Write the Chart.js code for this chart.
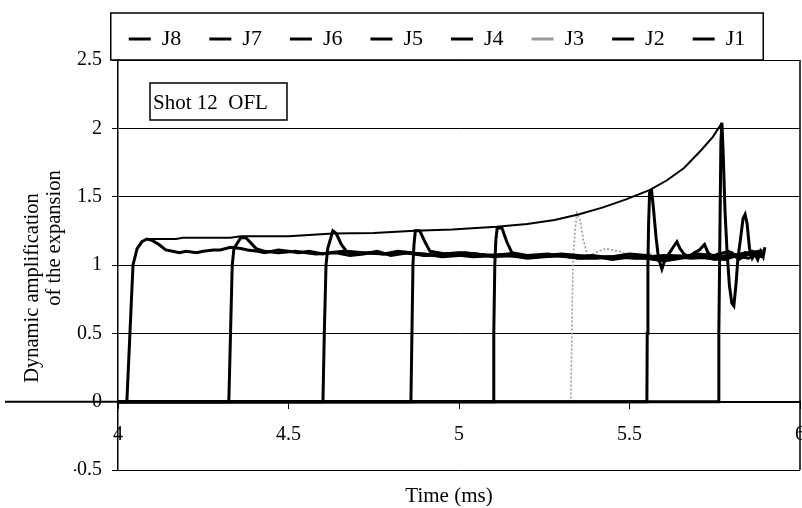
<!DOCTYPE html>
<html>
<head>
<meta charset="utf-8">
<script src="https://cdn.jsdelivr.net/npm/chart.js@4.4.1/dist/chart.umd.min.js"></script>
<style>
  html, body { margin: 0; padding: 0; background: #fff; }
  #wrap { width: 802px; height: 508px; position: relative; }
</style>
</head>
<body>
<div id="wrap"><canvas id="chart"></canvas></div>
<script>
// ─── DATA (time in ms, dynamic amplification) ─────────────
const xTicks = [4, 4.5, 5, 5.5, 6];
const yTicks = [-0.5, 0, 0.5, 1, 1.5, 2, 2.5];

const j8X = [4, 4.026, 4.035, 4.044, 4.056, 4.07, 4.085, 4.1, 4.12, 4.14, 4.16, 4.18, 4.2, 4.23, 4.25, 4.28, 4.3, 4.33, 4.36, 4.38, 4.41, 4.43, 4.47, 4.5, 4.53, 4.56, 4.6, 4.62, 4.66, 4.7, 4.74, 4.78, 4.82, 4.86, 4.9, 4.95, 5.0, 5.05, 5.1, 5.15, 5.2, 5.25, 5.3, 5.35, 5.4, 5.45, 5.5, 5.55, 5.6, 5.65, 5.7, 5.75, 5.79, 5.82, 5.85, 5.88];
const j8Y = [0, 0, 0.5, 1.0, 1.12, 1.17, 1.19, 1.18, 1.15, 1.11, 1.10, 1.09, 1.10, 1.09, 1.10, 1.11, 1.11, 1.13, 1.12, 1.11, 1.10, 1.09, 1.11, 1.10, 1.09, 1.10, 1.08, 1.09, 1.10, 1.08, 1.09, 1.08, 1.10, 1.09, 1.07, 1.08, 1.09, 1.08, 1.07, 1.08, 1.06, 1.07, 1.08, 1.07, 1.05, 1.06, 1.08, 1.07, 1.05, 1.06, 1.08, 1.07, 1.10, 1.06, 1.09, 1.10];

const j7X = [4, 4.325, 4.33, 4.335, 4.34, 4.36, 4.375, 4.39, 4.405, 4.43, 4.47, 4.52, 4.58, 4.64, 4.68, 4.72, 4.76, 4.8, 4.85, 4.9, 4.95, 5.0, 5.05, 5.1, 5.15, 5.2, 5.25, 5.3, 5.35, 5.4, 5.45, 5.5, 5.55, 5.6, 5.65, 5.7, 5.75, 5.8, 5.84, 5.87];
const j7Y = [0, 0, 0.5, 1.0, 1.12, 1.20, 1.20, 1.16, 1.12, 1.10, 1.09, 1.10, 1.08, 1.09, 1.07, 1.08, 1.10, 1.07, 1.09, 1.08, 1.06, 1.07, 1.08, 1.06, 1.07, 1.05, 1.06, 1.07, 1.05, 1.06, 1.04, 1.06, 1.05, 1.03, 1.05, 1.07, 1.04, 1.06, 1.09, 1.08];

const j6X = [4, 4.601, 4.605, 4.61, 4.615, 4.63, 4.64, 4.655, 4.67, 4.72, 4.78, 4.84, 4.9, 4.97, 5.04, 5.12, 5.2, 5.28, 5.36, 5.44, 5.52, 5.6, 5.68, 5.76, 5.83, 5.89];
const j6Y = [0, 0, 0.5, 1.0, 1.12, 1.25, 1.23, 1.15, 1.10, 1.09, 1.08, 1.09, 1.07, 1.08, 1.06, 1.07, 1.06, 1.07, 1.05, 1.06, 1.05, 1.07, 1.05, 1.06, 1.08, 1.07];

const j5X = [4, 4.859, 4.862, 4.865, 4.868, 4.872, 4.885, 4.9, 4.915, 4.96, 5.02, 5.08, 5.15, 5.22, 5.3, 5.38, 5.46, 5.54, 5.62, 5.7, 5.78, 5.84, 5.89];
const j5Y = [0, 0, 0.5, 1.0, 1.15, 1.25, 1.25, 1.17, 1.10, 1.08, 1.09, 1.07, 1.08, 1.06, 1.07, 1.05, 1.06, 1.05, 1.07, 1.06, 1.04, 1.09, 1.06];

const j4X = [4, 5.100, 5.102, 5.105, 5.108, 5.112, 5.126, 5.14, 5.155, 5.2, 5.26, 5.32, 5.39, 5.46, 5.53, 5.6, 5.67, 5.74, 5.8, 5.85, 5.89];
const j4Y = [0, 0, 0.5, 1.0, 1.18, 1.27, 1.27, 1.17, 1.09, 1.07, 1.08, 1.06, 1.07, 1.05, 1.06, 1.04, 1.06, 1.05, 1.07, 1.05, 1.11];

const j3X = [4, 5.328, 5.331, 5.334, 5.34, 5.346, 5.355, 5.365, 5.378, 5.4, 5.43, 5.47, 5.51, 5.56, 5.61, 5.66, 5.71, 5.76, 5.81, 5.86, 5.89];
const j3Y = [0, 0, 0.5, 1.0, 1.25, 1.38, 1.33, 1.18, 1.06, 1.09, 1.12, 1.10, 1.06, 1.08, 1.05, 1.07, 1.05, 1.08, 1.06, 1.09, 1.07];

const j2X = [4, 5.551, 5.552, 5.554, 5.556, 5.559, 5.565, 5.57, 5.578, 5.585, 5.595, 5.603, 5.615, 5.628, 5.639, 5.648, 5.66, 5.675, 5.69, 5.705, 5.72, 5.73, 5.745, 5.76, 5.78, 5.8, 5.82, 5.84, 5.86, 5.88];
const j2Y = [0, 0, 0.5, 1.0, 1.3, 1.53, 1.54, 1.42, 1.2, 1.05, 0.97, 1.03, 1.08, 1.13, 1.17, 1.12, 1.08, 1.06, 1.09, 1.11, 1.15, 1.09, 1.06, 1.08, 1.05, 1.09, 1.04, 1.07, 1.10, 1.06];

const j1X = [4, 5.760, 5.762, 5.765, 5.768, 5.771, 5.775, 5.78, 5.786, 5.793, 5.80, 5.806, 5.812, 5.818, 5.826, 5.833, 5.839, 5.845, 5.852, 5.86, 5.868, 5.876, 5.884, 5.892, 5.897];
const j1Y = [0, 0, 0.5, 1.2, 1.9, 2.04, 1.8, 1.4, 1.1, 0.85, 0.72, 0.70, 0.85, 1.05, 1.2, 1.34, 1.37, 1.3, 1.12, 1.05, 1.08, 1.04, 1.10, 1.06, 1.13];

// line joining the peaks
const envX = [4.085, 4.17, 4.19, 4.33, 4.36, 4.50, 4.56, 4.63, 4.75, 4.87, 4.98, 5.11, 5.20, 5.28, 5.35, 5.42, 5.49, 5.56, 5.61, 5.66, 5.71, 5.745, 5.771];
const envY = [1.19, 1.19, 1.20, 1.20, 1.21, 1.21, 1.22, 1.23, 1.235, 1.25, 1.26, 1.28, 1.30, 1.33, 1.37, 1.42, 1.48, 1.55, 1.62, 1.71, 1.84, 1.94, 2.04];

// ─── HELPERS ──────────────────────────────────────────────
const pts = (xs, ys) => xs.map((x, i) => ({ x, y: ys[i] }));
const FONT = "'Liberation Serif', 'Times New Roman', serif";

Chart.defaults.font.family = FONT;
Chart.defaults.color = '#000';

function series(label, xs, ys, color, width, dash, order) {
    return {
        label,
        data: pts(xs, ys),
        borderColor: color,
        backgroundColor: color,
        borderWidth: width,
        borderDash: dash || [],
        pointRadius: 0,
        tension: 0,
        fill: false,
        order: order || 0,
    };
}

// frame, titles and boxed note
const decor = {
    id: 'decor',
    beforeDraw(chart) {
        const c = chart.ctx;
        c.save();
        c.fillStyle = '#fff';
        c.fillRect(0, 0, chart.width, chart.height);
        c.restore();
    },
    afterDraw(chart) {
        const c = chart.ctx, a = chart.chartArea;
        const y0 = chart.scales.y.getPixelForValue(0);
        c.save();
        c.strokeStyle = '#000';
        c.fillStyle = '#000';

        // zero line runs out past the y axis
        c.lineWidth = 2;
        c.beginPath(); c.moveTo(5, y0); c.lineTo(a.left, y0); c.stroke();

        // right border
        c.lineWidth = 1.5;
        c.beginPath(); c.moveTo(a.right, a.top); c.lineTo(a.right, a.bottom); c.stroke();

        // legend frame
        const hb = chart.legend.legendHitBoxes;
        if (hb && hb.length) {
            const last = hb[hb.length - 1];
            const l = hb[0].left - 18, r = last.left + last.width + 18;
            const t = hb[0].top - 15;
            c.strokeRect(l, t, r - l, a.top - t);
        }

        // note box
        c.lineWidth = 1.5;
        c.strokeRect(150, 83, 137, 37);
        c.font = '21px ' + FONT;
        c.textBaseline = 'middle';
        c.textAlign = 'left';
        c.fillText('Shot 12  OFL', 153, 103);

        // x title
        c.textAlign = 'center';
        c.fillText('Time (ms)', 449, 496);

        // y title, two lines
        c.font = '20.5px ' + FONT;
        c.save();
        c.translate(33, 288);
        c.rotate(-Math.PI / 2);
        c.fillText('Dynamic amplification', 0, 0);
        c.restore();
        c.save();
        c.translate(55, 238);
        c.rotate(-Math.PI / 2);
        c.fillText('of the expansion', 0, 0);
        c.restore();

        c.restore();
    },
};

// ─── CHART ────────────────────────────────────────────────
new Chart(document.getElementById('chart'), {
    type: 'scatter',
    data: {
        datasets: [
            series('J8', j8X, j8Y, '#000', 3),
            series('J7', j7X, j7Y, '#000', 3),
            series('J6', j6X, j6Y, '#000', 3),
            series('J5', j5X, j5Y, '#000', 3),
            series('J4', j4X, j4Y, '#000', 3),
            series('J3', j3X, j3Y, '#9a9a9a', 1.6, [2, 2], 1),
            series('J2', j2X, j2Y, '#000', 3),
            series('J1', j1X, j1Y, '#000', 3),
            series('', envX, envY, '#000', 2),
        ],
    },
    options: {
        responsive: true,
        maintainAspectRatio: false,
        animation: false,
        events: [],
        showLine: true,
        layout: { padding: { left: 74, right: 2, top: 0, bottom: 38 } },
        plugins: {
            tooltip: { enabled: false },
            legend: {
                position: 'top',
                labels: {
                    font: { size: 22, family: FONT },
                    color: '#000',
                    boxWidth: 22,
                    boxHeight: 3,
                    padding: 28,
                    generateLabels: (chart) => chart.data.datasets
                        .map((d, i) => ({
                            text: d.label,
                            fillStyle: d.borderColor,
                            strokeStyle: d.borderColor,
                            lineWidth: 0,
                            hidden: false,
                            datasetIndex: i,
                            fontColor: '#000',
                        }))
                        .filter(l => l.text),
                },
            },
        },
        scales: {
            x: {
                type: 'linear',
                position: { y: 0 },
                min: xTicks[0],
                max: xTicks[xTicks.length - 1],
                afterBuildTicks: (s) => { s.ticks = xTicks.map(v => ({ value: v })); },
                afterFit: (s) => { s.paddingLeft = 0; s.paddingRight = 0; },
                grid: { drawOnChartArea: false, color: '#000', tickLength: 6, lineWidth: 1 },
                border: { color: '#000', width: 2 },
                ticks: { font: { size: 20 }, color: '#000', padding: 15, maxRotation: 0, autoSkip: false, callback: (v) => String(v) },
            },
            y: {
                type: 'linear',
                min: yTicks[0],
                max: yTicks[yTicks.length - 1],
                afterBuildTicks: (s) => { s.ticks = yTicks.map(v => ({ value: v })); },
                afterFit: (s) => { s.width = 44; },
                grid: { color: '#000', lineWidth: 1, tickLength: 6 },
                border: { color: '#000', width: 1.5 },
                ticks: { font: { size: 20 }, color: '#000', padding: 10, callback: (v) => String(v) },
            },
        },
    },
    plugins: [decor],
});
</script>
</body>
</html>
